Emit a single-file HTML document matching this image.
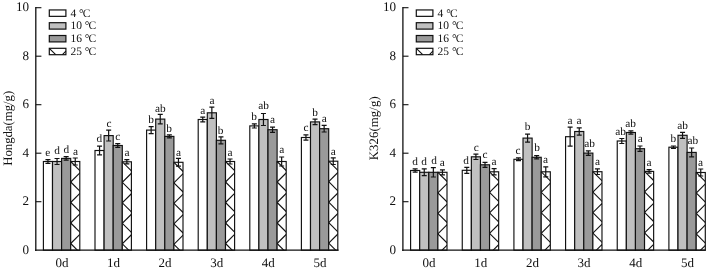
<!DOCTYPE html>
<html><head><meta charset="utf-8"><title>chart</title>
<style>html,body{margin:0;padding:0;background:#fff}svg{display:block}text{text-rendering:geometricPrecision;font-family:"Liberation Serif","Times New Roman",serif;fill:#111}</style>
</head><body>
<svg width="708" height="270" viewBox="0 0 708 270">
<rect width="708" height="270" fill="#fff"/>
<rect x="43.40" y="161.50" width="9.1" height="88.70" fill="#ffffff" stroke="#111" stroke-width="1.15"/>
<path d="M47.95 159.60V163.40M45.45 159.60h5M45.45 163.40h5" stroke="#111" stroke-width="1.2" fill="none"/>
<rect x="52.50" y="161.50" width="9.1" height="88.70" fill="#c0c0c0" stroke="#111" stroke-width="1.15"/>
<path d="M57.05 158.50V164.50M54.55 158.50h5M54.55 164.50h5" stroke="#111" stroke-width="1.2" fill="none"/>
<rect x="61.60" y="158.40" width="9.1" height="91.80" fill="#9a9a9a" stroke="#111" stroke-width="1.15"/>
<path d="M66.15 156.60V160.20M63.65 156.60h5M63.65 160.20h5" stroke="#111" stroke-width="1.2" fill="none"/>
<rect x="70.70" y="161.50" width="9.1" height="88.70" fill="#fff"/>
<clipPath id="c1"><rect x="70.70" y="161.50" width="9.10" height="88.70"/></clipPath><g clip-path="url(#c1)" stroke="#111" stroke-width="1.1" fill="none"><line x1="70.70" y1="38.50" x2="168.50" y2="136.30"/><line x1="70.70" y1="59.00" x2="168.50" y2="156.80"/><line x1="70.70" y1="79.50" x2="168.50" y2="177.30"/><line x1="70.70" y1="100.00" x2="168.50" y2="197.80"/><line x1="70.70" y1="120.50" x2="168.50" y2="218.30"/><line x1="70.70" y1="141.00" x2="168.50" y2="238.80"/><line x1="70.70" y1="161.50" x2="168.50" y2="259.30"/><line x1="70.70" y1="182.00" x2="168.50" y2="279.80"/><line x1="70.70" y1="202.50" x2="168.50" y2="300.30"/><line x1="70.70" y1="223.00" x2="168.50" y2="320.80"/><line x1="70.70" y1="243.50" x2="168.50" y2="341.30"/><line x1="70.70" y1="264.00" x2="168.50" y2="361.80"/><line x1="70.70" y1="284.50" x2="168.50" y2="382.30"/><line x1="70.70" y1="182.00" x2="168.50" y2="84.20"/><line x1="70.70" y1="202.50" x2="168.50" y2="104.70"/><line x1="70.70" y1="223.00" x2="168.50" y2="125.20"/><line x1="70.70" y1="243.50" x2="168.50" y2="145.70"/><line x1="70.70" y1="264.00" x2="168.50" y2="166.20"/><line x1="70.70" y1="284.50" x2="168.50" y2="186.70"/><line x1="70.70" y1="305.00" x2="168.50" y2="207.20"/></g>
<rect x="70.70" y="161.50" width="9.1" height="88.70" fill="none" stroke="#111" stroke-width="1.15"/>
<path d="M75.25 158.00V165.00M72.75 158.00h5M72.75 165.00h5" stroke="#111" stroke-width="1.2" fill="none"/>
<rect x="95.00" y="150.50" width="9.1" height="99.70" fill="#ffffff" stroke="#111" stroke-width="1.15"/>
<path d="M99.55 146.10V154.90M97.05 146.10h5M97.05 154.90h5" stroke="#111" stroke-width="1.2" fill="none"/>
<rect x="104.10" y="135.60" width="9.1" height="114.60" fill="#c0c0c0" stroke="#111" stroke-width="1.15"/>
<path d="M108.65 130.20V141.00M106.15 130.20h5M106.15 141.00h5" stroke="#111" stroke-width="1.2" fill="none"/>
<rect x="113.20" y="145.50" width="9.1" height="104.70" fill="#9a9a9a" stroke="#111" stroke-width="1.15"/>
<path d="M117.75 143.60V147.40M115.25 143.60h5M115.25 147.40h5" stroke="#111" stroke-width="1.2" fill="none"/>
<rect x="122.30" y="161.80" width="9.1" height="88.40" fill="#fff"/>
<clipPath id="c2"><rect x="122.30" y="161.80" width="9.10" height="88.40"/></clipPath><g clip-path="url(#c2)" stroke="#111" stroke-width="1.1" fill="none"><line x1="122.30" y1="38.80" x2="219.80" y2="136.30"/><line x1="122.30" y1="59.30" x2="219.80" y2="156.80"/><line x1="122.30" y1="79.80" x2="219.80" y2="177.30"/><line x1="122.30" y1="100.30" x2="219.80" y2="197.80"/><line x1="122.30" y1="120.80" x2="219.80" y2="218.30"/><line x1="122.30" y1="141.30" x2="219.80" y2="238.80"/><line x1="122.30" y1="161.80" x2="219.80" y2="259.30"/><line x1="122.30" y1="182.30" x2="219.80" y2="279.80"/><line x1="122.30" y1="202.80" x2="219.80" y2="300.30"/><line x1="122.30" y1="223.30" x2="219.80" y2="320.80"/><line x1="122.30" y1="243.80" x2="219.80" y2="341.30"/><line x1="122.30" y1="264.30" x2="219.80" y2="361.80"/><line x1="122.30" y1="284.80" x2="219.80" y2="382.30"/><line x1="122.30" y1="182.30" x2="219.80" y2="84.80"/><line x1="122.30" y1="202.80" x2="219.80" y2="105.30"/><line x1="122.30" y1="223.30" x2="219.80" y2="125.80"/><line x1="122.30" y1="243.80" x2="219.80" y2="146.30"/><line x1="122.30" y1="264.30" x2="219.80" y2="166.80"/><line x1="122.30" y1="284.80" x2="219.80" y2="187.30"/><line x1="122.30" y1="305.30" x2="219.80" y2="207.80"/></g>
<rect x="122.30" y="161.80" width="9.1" height="88.40" fill="none" stroke="#111" stroke-width="1.15"/>
<path d="M126.85 159.70V163.90M124.35 159.70h5M124.35 163.90h5" stroke="#111" stroke-width="1.2" fill="none"/>
<rect x="146.60" y="130.10" width="9.1" height="120.10" fill="#ffffff" stroke="#111" stroke-width="1.15"/>
<path d="M151.15 126.60V133.60M148.65 126.60h5M148.65 133.60h5" stroke="#111" stroke-width="1.2" fill="none"/>
<rect x="155.70" y="119.10" width="9.1" height="131.10" fill="#c0c0c0" stroke="#111" stroke-width="1.15"/>
<path d="M160.25 114.30V123.90M157.75 114.30h5M157.75 123.90h5" stroke="#111" stroke-width="1.2" fill="none"/>
<rect x="164.80" y="136.40" width="9.1" height="113.80" fill="#9a9a9a" stroke="#111" stroke-width="1.15"/>
<path d="M169.35 134.90V137.90M166.85 134.90h5M166.85 137.90h5" stroke="#111" stroke-width="1.2" fill="none"/>
<rect x="173.90" y="162.30" width="9.1" height="87.90" fill="#fff"/>
<clipPath id="c3"><rect x="173.90" y="162.30" width="9.10" height="87.90"/></clipPath><g clip-path="url(#c3)" stroke="#111" stroke-width="1.1" fill="none"><line x1="173.90" y1="39.30" x2="270.90" y2="136.30"/><line x1="173.90" y1="59.80" x2="270.90" y2="156.80"/><line x1="173.90" y1="80.30" x2="270.90" y2="177.30"/><line x1="173.90" y1="100.80" x2="270.90" y2="197.80"/><line x1="173.90" y1="121.30" x2="270.90" y2="218.30"/><line x1="173.90" y1="141.80" x2="270.90" y2="238.80"/><line x1="173.90" y1="162.30" x2="270.90" y2="259.30"/><line x1="173.90" y1="182.80" x2="270.90" y2="279.80"/><line x1="173.90" y1="203.30" x2="270.90" y2="300.30"/><line x1="173.90" y1="223.80" x2="270.90" y2="320.80"/><line x1="173.90" y1="244.30" x2="270.90" y2="341.30"/><line x1="173.90" y1="264.80" x2="270.90" y2="361.80"/><line x1="173.90" y1="285.30" x2="270.90" y2="382.30"/><line x1="173.90" y1="182.80" x2="270.90" y2="85.80"/><line x1="173.90" y1="203.30" x2="270.90" y2="106.30"/><line x1="173.90" y1="223.80" x2="270.90" y2="126.80"/><line x1="173.90" y1="244.30" x2="270.90" y2="147.30"/><line x1="173.90" y1="264.80" x2="270.90" y2="167.80"/><line x1="173.90" y1="285.30" x2="270.90" y2="188.30"/><line x1="173.90" y1="305.80" x2="270.90" y2="208.80"/></g>
<rect x="173.90" y="162.30" width="9.1" height="87.90" fill="none" stroke="#111" stroke-width="1.15"/>
<path d="M178.45 158.40V166.20M175.95 158.40h5M175.95 166.20h5" stroke="#111" stroke-width="1.2" fill="none"/>
<rect x="198.20" y="119.50" width="9.1" height="130.70" fill="#ffffff" stroke="#111" stroke-width="1.15"/>
<path d="M202.75 117.10V121.90M200.25 117.10h5M200.25 121.90h5" stroke="#111" stroke-width="1.2" fill="none"/>
<rect x="207.30" y="112.80" width="9.1" height="137.40" fill="#c0c0c0" stroke="#111" stroke-width="1.15"/>
<path d="M211.85 107.20V118.40M209.35 107.20h5M209.35 118.40h5" stroke="#111" stroke-width="1.2" fill="none"/>
<rect x="216.40" y="140.30" width="9.1" height="109.90" fill="#9a9a9a" stroke="#111" stroke-width="1.15"/>
<path d="M220.95 136.80V143.80M218.45 136.80h5M218.45 143.80h5" stroke="#111" stroke-width="1.2" fill="none"/>
<rect x="225.50" y="161.50" width="9.1" height="88.70" fill="#fff"/>
<clipPath id="c4"><rect x="225.50" y="161.50" width="9.10" height="88.70"/></clipPath><g clip-path="url(#c4)" stroke="#111" stroke-width="1.1" fill="none"><line x1="225.50" y1="38.50" x2="323.30" y2="136.30"/><line x1="225.50" y1="59.00" x2="323.30" y2="156.80"/><line x1="225.50" y1="79.50" x2="323.30" y2="177.30"/><line x1="225.50" y1="100.00" x2="323.30" y2="197.80"/><line x1="225.50" y1="120.50" x2="323.30" y2="218.30"/><line x1="225.50" y1="141.00" x2="323.30" y2="238.80"/><line x1="225.50" y1="161.50" x2="323.30" y2="259.30"/><line x1="225.50" y1="182.00" x2="323.30" y2="279.80"/><line x1="225.50" y1="202.50" x2="323.30" y2="300.30"/><line x1="225.50" y1="223.00" x2="323.30" y2="320.80"/><line x1="225.50" y1="243.50" x2="323.30" y2="341.30"/><line x1="225.50" y1="264.00" x2="323.30" y2="361.80"/><line x1="225.50" y1="284.50" x2="323.30" y2="382.30"/><line x1="225.50" y1="182.00" x2="323.30" y2="84.20"/><line x1="225.50" y1="202.50" x2="323.30" y2="104.70"/><line x1="225.50" y1="223.00" x2="323.30" y2="125.20"/><line x1="225.50" y1="243.50" x2="323.30" y2="145.70"/><line x1="225.50" y1="264.00" x2="323.30" y2="166.20"/><line x1="225.50" y1="284.50" x2="323.30" y2="186.70"/><line x1="225.50" y1="305.00" x2="323.30" y2="207.20"/></g>
<rect x="225.50" y="161.50" width="9.1" height="88.70" fill="none" stroke="#111" stroke-width="1.15"/>
<path d="M230.05 159.00V164.00M227.55 159.00h5M227.55 164.00h5" stroke="#111" stroke-width="1.2" fill="none"/>
<rect x="249.80" y="125.90" width="9.1" height="124.30" fill="#ffffff" stroke="#111" stroke-width="1.15"/>
<path d="M254.35 123.80V128.00M251.85 123.80h5M251.85 128.00h5" stroke="#111" stroke-width="1.2" fill="none"/>
<rect x="258.90" y="119.50" width="9.1" height="130.70" fill="#c0c0c0" stroke="#111" stroke-width="1.15"/>
<path d="M263.45 113.50V125.50M260.95 113.50h5M260.95 125.50h5" stroke="#111" stroke-width="1.2" fill="none"/>
<rect x="268.00" y="129.70" width="9.1" height="120.50" fill="#9a9a9a" stroke="#111" stroke-width="1.15"/>
<path d="M272.55 127.10V132.30M270.05 127.10h5M270.05 132.30h5" stroke="#111" stroke-width="1.2" fill="none"/>
<rect x="277.10" y="161.50" width="9.1" height="88.70" fill="#fff"/>
<clipPath id="c5"><rect x="277.10" y="161.50" width="9.10" height="88.70"/></clipPath><g clip-path="url(#c5)" stroke="#111" stroke-width="1.1" fill="none"><line x1="277.10" y1="38.50" x2="374.90" y2="136.30"/><line x1="277.10" y1="59.00" x2="374.90" y2="156.80"/><line x1="277.10" y1="79.50" x2="374.90" y2="177.30"/><line x1="277.10" y1="100.00" x2="374.90" y2="197.80"/><line x1="277.10" y1="120.50" x2="374.90" y2="218.30"/><line x1="277.10" y1="141.00" x2="374.90" y2="238.80"/><line x1="277.10" y1="161.50" x2="374.90" y2="259.30"/><line x1="277.10" y1="182.00" x2="374.90" y2="279.80"/><line x1="277.10" y1="202.50" x2="374.90" y2="300.30"/><line x1="277.10" y1="223.00" x2="374.90" y2="320.80"/><line x1="277.10" y1="243.50" x2="374.90" y2="341.30"/><line x1="277.10" y1="264.00" x2="374.90" y2="361.80"/><line x1="277.10" y1="284.50" x2="374.90" y2="382.30"/><line x1="277.10" y1="182.00" x2="374.90" y2="84.20"/><line x1="277.10" y1="202.50" x2="374.90" y2="104.70"/><line x1="277.10" y1="223.00" x2="374.90" y2="125.20"/><line x1="277.10" y1="243.50" x2="374.90" y2="145.70"/><line x1="277.10" y1="264.00" x2="374.90" y2="166.20"/><line x1="277.10" y1="284.50" x2="374.90" y2="186.70"/><line x1="277.10" y1="305.00" x2="374.90" y2="207.20"/></g>
<rect x="277.10" y="161.50" width="9.1" height="88.70" fill="none" stroke="#111" stroke-width="1.15"/>
<path d="M281.65 157.00V166.00M279.15 157.00h5M279.15 166.00h5" stroke="#111" stroke-width="1.2" fill="none"/>
<rect x="301.40" y="137.50" width="9.1" height="112.70" fill="#ffffff" stroke="#111" stroke-width="1.15"/>
<path d="M305.95 134.80V140.20M303.45 134.80h5M303.45 140.20h5" stroke="#111" stroke-width="1.2" fill="none"/>
<rect x="310.50" y="121.90" width="9.1" height="128.30" fill="#c0c0c0" stroke="#111" stroke-width="1.15"/>
<path d="M315.05 119.10V124.70M312.55 119.10h5M312.55 124.70h5" stroke="#111" stroke-width="1.2" fill="none"/>
<rect x="319.60" y="128.70" width="9.1" height="121.50" fill="#9a9a9a" stroke="#111" stroke-width="1.15"/>
<path d="M324.15 125.40V132.00M321.65 125.40h5M321.65 132.00h5" stroke="#111" stroke-width="1.2" fill="none"/>
<rect x="328.70" y="161.20" width="9.1" height="89.00" fill="#fff"/>
<clipPath id="c6"><rect x="328.70" y="161.20" width="9.10" height="89.00"/></clipPath><g clip-path="url(#c6)" stroke="#111" stroke-width="1.1" fill="none"><line x1="328.70" y1="38.20" x2="426.80" y2="136.30"/><line x1="328.70" y1="58.70" x2="426.80" y2="156.80"/><line x1="328.70" y1="79.20" x2="426.80" y2="177.30"/><line x1="328.70" y1="99.70" x2="426.80" y2="197.80"/><line x1="328.70" y1="120.20" x2="426.80" y2="218.30"/><line x1="328.70" y1="140.70" x2="426.80" y2="238.80"/><line x1="328.70" y1="161.20" x2="426.80" y2="259.30"/><line x1="328.70" y1="181.70" x2="426.80" y2="279.80"/><line x1="328.70" y1="202.20" x2="426.80" y2="300.30"/><line x1="328.70" y1="222.70" x2="426.80" y2="320.80"/><line x1="328.70" y1="243.20" x2="426.80" y2="341.30"/><line x1="328.70" y1="263.70" x2="426.80" y2="361.80"/><line x1="328.70" y1="284.20" x2="426.80" y2="382.30"/><line x1="328.70" y1="181.70" x2="426.80" y2="83.60"/><line x1="328.70" y1="202.20" x2="426.80" y2="104.10"/><line x1="328.70" y1="222.70" x2="426.80" y2="124.60"/><line x1="328.70" y1="243.20" x2="426.80" y2="145.10"/><line x1="328.70" y1="263.70" x2="426.80" y2="165.60"/><line x1="328.70" y1="284.20" x2="426.80" y2="186.10"/><line x1="328.70" y1="304.70" x2="426.80" y2="206.60"/></g>
<rect x="328.70" y="161.20" width="9.1" height="89.00" fill="none" stroke="#111" stroke-width="1.15"/>
<path d="M333.25 157.90V164.50M330.75 157.90h5M330.75 164.50h5" stroke="#111" stroke-width="1.2" fill="none"/>
<text x="47.7" y="155.5" font-size="11.3" text-anchor="middle">e</text>
<text x="57.1" y="153.7" font-size="11.3" text-anchor="middle">d</text>
<text x="66.3" y="153.4" font-size="11.3" text-anchor="middle">d</text>
<text x="75.5" y="154.8" font-size="11.3" text-anchor="middle">a</text>
<text x="99.4" y="142.4" font-size="11.3" text-anchor="middle">d</text>
<text x="109.0" y="127.0" font-size="11.3" text-anchor="middle">c</text>
<text x="117.7" y="140.2" font-size="11.3" text-anchor="middle">c</text>
<text x="127.0" y="156.1" font-size="11.3" text-anchor="middle">a</text>
<text x="151.2" y="122.5" font-size="11.3" text-anchor="middle">b</text>
<text x="160.4" y="111.5" font-size="11.3" text-anchor="middle">ab</text>
<text x="169.1" y="131.5" font-size="11.3" text-anchor="middle">b</text>
<text x="178.4" y="155.7" font-size="11.3" text-anchor="middle">a</text>
<text x="202.7" y="113.5" font-size="11.3" text-anchor="middle">a</text>
<text x="212.1" y="103.8" font-size="11.3" text-anchor="middle">a</text>
<text x="220.7" y="133.7" font-size="11.3" text-anchor="middle">b</text>
<text x="230.0" y="155.5" font-size="11.3" text-anchor="middle">a</text>
<text x="254.2" y="120.3" font-size="11.3" text-anchor="middle">b</text>
<text x="263.7" y="109.1" font-size="11.3" text-anchor="middle">ab</text>
<text x="272.5" y="122.8" font-size="11.3" text-anchor="middle">a</text>
<text x="281.7" y="153.4" font-size="11.3" text-anchor="middle">a</text>
<text x="306.1" y="131.1" font-size="11.3" text-anchor="middle">c</text>
<text x="315.0" y="116.0" font-size="11.3" text-anchor="middle">b</text>
<text x="324.3" y="121.9" font-size="11.3" text-anchor="middle">a</text>
<text x="333.3" y="154.8" font-size="11.3" text-anchor="middle">a</text>
<path d="M35.8 7.10V250.90" stroke="#111" stroke-width="1.3" fill="none"/>
<path d="M35.10 250.2H338.60" stroke="#111" stroke-width="1.3" fill="none"/>
<text x="29.1" y="253.7" font-size="13.1" text-anchor="end">0</text>
<path d="M35.8 201.70h5.6" stroke="#111" stroke-width="1.1" fill="none"/>
<text x="29.1" y="205.2" font-size="13.1" text-anchor="end">2</text>
<path d="M35.8 153.20h5.6" stroke="#111" stroke-width="1.1" fill="none"/>
<text x="29.1" y="156.7" font-size="13.1" text-anchor="end">4</text>
<path d="M35.8 104.70h5.6" stroke="#111" stroke-width="1.1" fill="none"/>
<text x="29.1" y="108.2" font-size="13.1" text-anchor="end">6</text>
<path d="M35.8 56.20h5.6" stroke="#111" stroke-width="1.1" fill="none"/>
<text x="29.1" y="59.7" font-size="13.1" text-anchor="end">8</text>
<path d="M35.8 7.70h5.6" stroke="#111" stroke-width="1.1" fill="none"/>
<text x="29.1" y="11.2" font-size="13.1" text-anchor="end">10</text>
<text x="61.9" y="267.0" font-size="13" text-anchor="middle">0d</text>
<text x="113.5" y="267.0" font-size="13" text-anchor="middle">1d</text>
<text x="165.1" y="267.0" font-size="13" text-anchor="middle">2d</text>
<text x="216.7" y="267.0" font-size="13" text-anchor="middle">3d</text>
<text x="268.3" y="267.0" font-size="13" text-anchor="middle">4d</text>
<text x="319.9" y="267.0" font-size="13" text-anchor="middle">5d</text>
<text transform="translate(11.6 165.8) rotate(-90)" font-size="12.8" textLength="75.0" lengthAdjust="spacing">Hongda(mg/g)</text>
<rect x="49.300000000000004" y="9.95" width="16.6" height="6.4" fill="#ffffff" stroke="#111" stroke-width="1.2"/>
<text x="70.4" y="16.6" font-size="11.5">4 °<tspan dx="-0.8">C</tspan></text>
<rect x="49.300000000000004" y="22.7" width="16.6" height="6.4" fill="#c0c0c0" stroke="#111" stroke-width="1.2"/>
<text x="70.4" y="29.4" font-size="11.5">10 °<tspan dx="-0.8">C</tspan></text>
<rect x="49.300000000000004" y="35.5" width="16.6" height="6.4" fill="#9a9a9a" stroke="#111" stroke-width="1.2"/>
<text x="70.4" y="42.2" font-size="11.5">16 °<tspan dx="-0.8">C</tspan></text>
<rect x="49.300000000000004" y="48.3" width="16.6" height="6.4" fill="#fff"/>
<path d="M49.300000000000004 48.3l6.4 6.4M65.9 51.199999999999996l-3.5 3.5" stroke="#111" stroke-width="1.1" fill="none"/>
<rect x="49.300000000000004" y="48.3" width="16.6" height="6.4" fill="none" stroke="#111" stroke-width="1.2"/>
<text x="70.4" y="55.0" font-size="11.5">25 °<tspan dx="-0.8">C</tspan></text>
<rect x="410.60" y="170.50" width="9.1" height="79.70" fill="#ffffff" stroke="#111" stroke-width="1.15"/>
<path d="M415.15 168.90V172.10M412.65 168.90h5M412.65 172.10h5" stroke="#111" stroke-width="1.2" fill="none"/>
<rect x="419.70" y="172.30" width="9.1" height="77.90" fill="#c0c0c0" stroke="#111" stroke-width="1.15"/>
<path d="M424.25 168.90V175.70M421.75 168.90h5M421.75 175.70h5" stroke="#111" stroke-width="1.2" fill="none"/>
<rect x="428.80" y="172.30" width="9.1" height="77.90" fill="#9a9a9a" stroke="#111" stroke-width="1.15"/>
<path d="M433.35 167.60V177.00M430.85 167.60h5M430.85 177.00h5" stroke="#111" stroke-width="1.2" fill="none"/>
<rect x="437.90" y="172.30" width="9.1" height="77.90" fill="#fff"/>
<clipPath id="c7"><rect x="437.90" y="172.30" width="9.10" height="77.90"/></clipPath><g clip-path="url(#c7)" stroke="#111" stroke-width="1.1" fill="none"><line x1="437.90" y1="49.30" x2="524.90" y2="136.30"/><line x1="437.90" y1="69.80" x2="524.90" y2="156.80"/><line x1="437.90" y1="90.30" x2="524.90" y2="177.30"/><line x1="437.90" y1="110.80" x2="524.90" y2="197.80"/><line x1="437.90" y1="131.30" x2="524.90" y2="218.30"/><line x1="437.90" y1="151.80" x2="524.90" y2="238.80"/><line x1="437.90" y1="172.30" x2="524.90" y2="259.30"/><line x1="437.90" y1="192.80" x2="524.90" y2="279.80"/><line x1="437.90" y1="213.30" x2="524.90" y2="300.30"/><line x1="437.90" y1="233.80" x2="524.90" y2="320.80"/><line x1="437.90" y1="254.30" x2="524.90" y2="341.30"/><line x1="437.90" y1="274.80" x2="524.90" y2="361.80"/><line x1="437.90" y1="295.30" x2="524.90" y2="382.30"/><line x1="437.90" y1="192.80" x2="524.90" y2="105.80"/><line x1="437.90" y1="213.30" x2="524.90" y2="126.30"/><line x1="437.90" y1="233.80" x2="524.90" y2="146.80"/><line x1="437.90" y1="254.30" x2="524.90" y2="167.30"/><line x1="437.90" y1="274.80" x2="524.90" y2="187.80"/><line x1="437.90" y1="295.30" x2="524.90" y2="208.30"/><line x1="437.90" y1="315.80" x2="524.90" y2="228.80"/></g>
<rect x="437.90" y="172.30" width="9.1" height="77.90" fill="none" stroke="#111" stroke-width="1.15"/>
<path d="M442.45 169.80V174.80M439.95 169.80h5M439.95 174.80h5" stroke="#111" stroke-width="1.2" fill="none"/>
<rect x="462.26" y="170.30" width="9.1" height="79.90" fill="#ffffff" stroke="#111" stroke-width="1.15"/>
<path d="M466.81 167.30V173.30M464.31 167.30h5M464.31 173.30h5" stroke="#111" stroke-width="1.2" fill="none"/>
<rect x="471.36" y="156.80" width="9.1" height="93.40" fill="#c0c0c0" stroke="#111" stroke-width="1.15"/>
<path d="M475.91 154.10V159.50M473.41 154.10h5M473.41 159.50h5" stroke="#111" stroke-width="1.2" fill="none"/>
<rect x="480.46" y="164.80" width="9.1" height="85.40" fill="#9a9a9a" stroke="#111" stroke-width="1.15"/>
<path d="M485.01 162.30V167.30M482.51 162.30h5M482.51 167.30h5" stroke="#111" stroke-width="1.2" fill="none"/>
<rect x="489.56" y="171.80" width="9.1" height="78.40" fill="#fff"/>
<clipPath id="c8"><rect x="489.56" y="171.80" width="9.10" height="78.40"/></clipPath><g clip-path="url(#c8)" stroke="#111" stroke-width="1.1" fill="none"><line x1="489.56" y1="48.80" x2="577.06" y2="136.30"/><line x1="489.56" y1="69.30" x2="577.06" y2="156.80"/><line x1="489.56" y1="89.80" x2="577.06" y2="177.30"/><line x1="489.56" y1="110.30" x2="577.06" y2="197.80"/><line x1="489.56" y1="130.80" x2="577.06" y2="218.30"/><line x1="489.56" y1="151.30" x2="577.06" y2="238.80"/><line x1="489.56" y1="171.80" x2="577.06" y2="259.30"/><line x1="489.56" y1="192.30" x2="577.06" y2="279.80"/><line x1="489.56" y1="212.80" x2="577.06" y2="300.30"/><line x1="489.56" y1="233.30" x2="577.06" y2="320.80"/><line x1="489.56" y1="253.80" x2="577.06" y2="341.30"/><line x1="489.56" y1="274.30" x2="577.06" y2="361.80"/><line x1="489.56" y1="294.80" x2="577.06" y2="382.30"/><line x1="489.56" y1="192.30" x2="577.06" y2="104.80"/><line x1="489.56" y1="212.80" x2="577.06" y2="125.30"/><line x1="489.56" y1="233.30" x2="577.06" y2="145.80"/><line x1="489.56" y1="253.80" x2="577.06" y2="166.30"/><line x1="489.56" y1="274.30" x2="577.06" y2="186.80"/><line x1="489.56" y1="294.80" x2="577.06" y2="207.30"/><line x1="489.56" y1="315.30" x2="577.06" y2="227.80"/></g>
<rect x="489.56" y="171.80" width="9.1" height="78.40" fill="none" stroke="#111" stroke-width="1.15"/>
<path d="M494.11 168.70V174.90M491.61 168.70h5M491.61 174.90h5" stroke="#111" stroke-width="1.2" fill="none"/>
<rect x="513.92" y="159.30" width="9.1" height="90.90" fill="#ffffff" stroke="#111" stroke-width="1.15"/>
<path d="M518.47 157.90V160.70M515.97 157.90h5M515.97 160.70h5" stroke="#111" stroke-width="1.2" fill="none"/>
<rect x="523.02" y="138.10" width="9.1" height="112.10" fill="#c0c0c0" stroke="#111" stroke-width="1.15"/>
<path d="M527.57 134.10V142.10M525.07 134.10h5M525.07 142.10h5" stroke="#111" stroke-width="1.2" fill="none"/>
<rect x="532.12" y="157.30" width="9.1" height="92.90" fill="#9a9a9a" stroke="#111" stroke-width="1.15"/>
<path d="M536.67 155.70V158.90M534.17 155.70h5M534.17 158.90h5" stroke="#111" stroke-width="1.2" fill="none"/>
<rect x="541.22" y="171.80" width="9.1" height="78.40" fill="#fff"/>
<clipPath id="c9"><rect x="541.22" y="171.80" width="9.10" height="78.40"/></clipPath><g clip-path="url(#c9)" stroke="#111" stroke-width="1.1" fill="none"><line x1="541.22" y1="48.80" x2="628.72" y2="136.30"/><line x1="541.22" y1="69.30" x2="628.72" y2="156.80"/><line x1="541.22" y1="89.80" x2="628.72" y2="177.30"/><line x1="541.22" y1="110.30" x2="628.72" y2="197.80"/><line x1="541.22" y1="130.80" x2="628.72" y2="218.30"/><line x1="541.22" y1="151.30" x2="628.72" y2="238.80"/><line x1="541.22" y1="171.80" x2="628.72" y2="259.30"/><line x1="541.22" y1="192.30" x2="628.72" y2="279.80"/><line x1="541.22" y1="212.80" x2="628.72" y2="300.30"/><line x1="541.22" y1="233.30" x2="628.72" y2="320.80"/><line x1="541.22" y1="253.80" x2="628.72" y2="341.30"/><line x1="541.22" y1="274.30" x2="628.72" y2="361.80"/><line x1="541.22" y1="294.80" x2="628.72" y2="382.30"/><line x1="541.22" y1="192.30" x2="628.72" y2="104.80"/><line x1="541.22" y1="212.80" x2="628.72" y2="125.30"/><line x1="541.22" y1="233.30" x2="628.72" y2="145.80"/><line x1="541.22" y1="253.80" x2="628.72" y2="166.30"/><line x1="541.22" y1="274.30" x2="628.72" y2="186.80"/><line x1="541.22" y1="294.80" x2="628.72" y2="207.30"/><line x1="541.22" y1="315.30" x2="628.72" y2="227.80"/></g>
<rect x="541.22" y="171.80" width="9.1" height="78.40" fill="none" stroke="#111" stroke-width="1.15"/>
<path d="M545.77 166.80V176.80M543.27 166.80h5M543.27 176.80h5" stroke="#111" stroke-width="1.2" fill="none"/>
<rect x="565.58" y="136.70" width="9.1" height="113.50" fill="#ffffff" stroke="#111" stroke-width="1.15"/>
<path d="M570.13 127.20V146.20M567.63 127.20h5M567.63 146.20h5" stroke="#111" stroke-width="1.2" fill="none"/>
<rect x="574.68" y="131.50" width="9.1" height="118.70" fill="#c0c0c0" stroke="#111" stroke-width="1.15"/>
<path d="M579.23 127.80V135.20M576.73 127.80h5M576.73 135.20h5" stroke="#111" stroke-width="1.2" fill="none"/>
<rect x="583.78" y="153.10" width="9.1" height="97.10" fill="#9a9a9a" stroke="#111" stroke-width="1.15"/>
<path d="M588.33 150.80V155.40M585.83 150.80h5M585.83 155.40h5" stroke="#111" stroke-width="1.2" fill="none"/>
<rect x="592.88" y="171.70" width="9.1" height="78.50" fill="#fff"/>
<clipPath id="c10"><rect x="592.88" y="171.70" width="9.10" height="78.50"/></clipPath><g clip-path="url(#c10)" stroke="#111" stroke-width="1.1" fill="none"><line x1="592.88" y1="48.70" x2="680.48" y2="136.30"/><line x1="592.88" y1="69.20" x2="680.48" y2="156.80"/><line x1="592.88" y1="89.70" x2="680.48" y2="177.30"/><line x1="592.88" y1="110.20" x2="680.48" y2="197.80"/><line x1="592.88" y1="130.70" x2="680.48" y2="218.30"/><line x1="592.88" y1="151.20" x2="680.48" y2="238.80"/><line x1="592.88" y1="171.70" x2="680.48" y2="259.30"/><line x1="592.88" y1="192.20" x2="680.48" y2="279.80"/><line x1="592.88" y1="212.70" x2="680.48" y2="300.30"/><line x1="592.88" y1="233.20" x2="680.48" y2="320.80"/><line x1="592.88" y1="253.70" x2="680.48" y2="341.30"/><line x1="592.88" y1="274.20" x2="680.48" y2="361.80"/><line x1="592.88" y1="294.70" x2="680.48" y2="382.30"/><line x1="592.88" y1="192.20" x2="680.48" y2="104.60"/><line x1="592.88" y1="212.70" x2="680.48" y2="125.10"/><line x1="592.88" y1="233.20" x2="680.48" y2="145.60"/><line x1="592.88" y1="253.70" x2="680.48" y2="166.10"/><line x1="592.88" y1="274.20" x2="680.48" y2="186.60"/><line x1="592.88" y1="294.70" x2="680.48" y2="207.10"/><line x1="592.88" y1="315.20" x2="680.48" y2="227.60"/></g>
<rect x="592.88" y="171.70" width="9.1" height="78.50" fill="none" stroke="#111" stroke-width="1.15"/>
<path d="M597.43 168.90V174.50M594.93 168.90h5M594.93 174.50h5" stroke="#111" stroke-width="1.2" fill="none"/>
<rect x="617.24" y="141.00" width="9.1" height="109.20" fill="#ffffff" stroke="#111" stroke-width="1.15"/>
<path d="M621.79 138.50V143.50M619.29 138.50h5M619.29 143.50h5" stroke="#111" stroke-width="1.2" fill="none"/>
<rect x="626.34" y="132.50" width="9.1" height="117.70" fill="#c0c0c0" stroke="#111" stroke-width="1.15"/>
<path d="M630.89 130.90V134.10M628.39 130.90h5M628.39 134.10h5" stroke="#111" stroke-width="1.2" fill="none"/>
<rect x="635.44" y="148.70" width="9.1" height="101.50" fill="#9a9a9a" stroke="#111" stroke-width="1.15"/>
<path d="M639.99 146.00V151.40M637.49 146.00h5M637.49 151.40h5" stroke="#111" stroke-width="1.2" fill="none"/>
<rect x="644.54" y="171.40" width="9.1" height="78.80" fill="#fff"/>
<clipPath id="c11"><rect x="644.54" y="171.40" width="9.10" height="78.80"/></clipPath><g clip-path="url(#c11)" stroke="#111" stroke-width="1.1" fill="none"><line x1="644.54" y1="48.40" x2="732.44" y2="136.30"/><line x1="644.54" y1="68.90" x2="732.44" y2="156.80"/><line x1="644.54" y1="89.40" x2="732.44" y2="177.30"/><line x1="644.54" y1="109.90" x2="732.44" y2="197.80"/><line x1="644.54" y1="130.40" x2="732.44" y2="218.30"/><line x1="644.54" y1="150.90" x2="732.44" y2="238.80"/><line x1="644.54" y1="171.40" x2="732.44" y2="259.30"/><line x1="644.54" y1="191.90" x2="732.44" y2="279.80"/><line x1="644.54" y1="212.40" x2="732.44" y2="300.30"/><line x1="644.54" y1="232.90" x2="732.44" y2="320.80"/><line x1="644.54" y1="253.40" x2="732.44" y2="341.30"/><line x1="644.54" y1="273.90" x2="732.44" y2="361.80"/><line x1="644.54" y1="294.40" x2="732.44" y2="382.30"/><line x1="644.54" y1="191.90" x2="732.44" y2="104.00"/><line x1="644.54" y1="212.40" x2="732.44" y2="124.50"/><line x1="644.54" y1="232.90" x2="732.44" y2="145.00"/><line x1="644.54" y1="253.40" x2="732.44" y2="165.50"/><line x1="644.54" y1="273.90" x2="732.44" y2="186.00"/><line x1="644.54" y1="294.40" x2="732.44" y2="206.50"/><line x1="644.54" y1="314.90" x2="732.44" y2="227.00"/></g>
<rect x="644.54" y="171.40" width="9.1" height="78.80" fill="none" stroke="#111" stroke-width="1.15"/>
<path d="M649.09 169.70V173.10M646.59 169.70h5M646.59 173.10h5" stroke="#111" stroke-width="1.2" fill="none"/>
<rect x="668.90" y="147.20" width="9.1" height="103.00" fill="#ffffff" stroke="#111" stroke-width="1.15"/>
<path d="M673.45 146.00V148.40M670.95 146.00h5M670.95 148.40h5" stroke="#111" stroke-width="1.2" fill="none"/>
<rect x="678.00" y="135.30" width="9.1" height="114.90" fill="#c0c0c0" stroke="#111" stroke-width="1.15"/>
<path d="M682.55 132.30V138.30M680.05 132.30h5M680.05 138.30h5" stroke="#111" stroke-width="1.2" fill="none"/>
<rect x="687.10" y="152.40" width="9.1" height="97.80" fill="#9a9a9a" stroke="#111" stroke-width="1.15"/>
<path d="M691.65 148.00V156.80M689.15 148.00h5M689.15 156.80h5" stroke="#111" stroke-width="1.2" fill="none"/>
<rect x="696.20" y="172.50" width="9.1" height="77.70" fill="#fff"/>
<clipPath id="c12"><rect x="696.20" y="172.50" width="9.10" height="77.70"/></clipPath><g clip-path="url(#c12)" stroke="#111" stroke-width="1.1" fill="none"><line x1="696.20" y1="49.50" x2="783.00" y2="136.30"/><line x1="696.20" y1="70.00" x2="783.00" y2="156.80"/><line x1="696.20" y1="90.50" x2="783.00" y2="177.30"/><line x1="696.20" y1="111.00" x2="783.00" y2="197.80"/><line x1="696.20" y1="131.50" x2="783.00" y2="218.30"/><line x1="696.20" y1="152.00" x2="783.00" y2="238.80"/><line x1="696.20" y1="172.50" x2="783.00" y2="259.30"/><line x1="696.20" y1="193.00" x2="783.00" y2="279.80"/><line x1="696.20" y1="213.50" x2="783.00" y2="300.30"/><line x1="696.20" y1="234.00" x2="783.00" y2="320.80"/><line x1="696.20" y1="254.50" x2="783.00" y2="341.30"/><line x1="696.20" y1="275.00" x2="783.00" y2="361.80"/><line x1="696.20" y1="295.50" x2="783.00" y2="382.30"/><line x1="696.20" y1="193.00" x2="783.00" y2="106.20"/><line x1="696.20" y1="213.50" x2="783.00" y2="126.70"/><line x1="696.20" y1="234.00" x2="783.00" y2="147.20"/><line x1="696.20" y1="254.50" x2="783.00" y2="167.70"/><line x1="696.20" y1="275.00" x2="783.00" y2="188.20"/><line x1="696.20" y1="295.50" x2="783.00" y2="208.70"/><line x1="696.20" y1="316.00" x2="783.00" y2="229.20"/></g>
<rect x="696.20" y="172.50" width="9.1" height="77.70" fill="none" stroke="#111" stroke-width="1.15"/>
<path d="M700.75 169.00V176.00M698.25 169.00h5M698.25 176.00h5" stroke="#111" stroke-width="1.2" fill="none"/>
<text x="415.0" y="165.3" font-size="11.3" text-anchor="middle">d</text>
<text x="424.2" y="164.8" font-size="11.3" text-anchor="middle">d</text>
<text x="434.2" y="163.7" font-size="11.3" text-anchor="middle">d</text>
<text x="442.3" y="166.2" font-size="11.3" text-anchor="middle">a</text>
<text x="466.2" y="163.6" font-size="11.3" text-anchor="middle">d</text>
<text x="476.3" y="150.8" font-size="11.3" text-anchor="middle">c</text>
<text x="485.0" y="158.3" font-size="11.3" text-anchor="middle">c</text>
<text x="494.0" y="165.0" font-size="11.3" text-anchor="middle">a</text>
<text x="518.0" y="154.2" font-size="11.3" text-anchor="middle">c</text>
<text x="527.5" y="130.4" font-size="11.3" text-anchor="middle">b</text>
<text x="537.0" y="151.3" font-size="11.3" text-anchor="middle">b</text>
<text x="545.4" y="163.4" font-size="11.3" text-anchor="middle">a</text>
<text x="569.9" y="123.6" font-size="11.3" text-anchor="middle">a</text>
<text x="579.1" y="124.0" font-size="11.3" text-anchor="middle">a</text>
<text x="589.5" y="147.2" font-size="11.3" text-anchor="middle">ab</text>
<text x="597.6" y="165.4" font-size="11.3" text-anchor="middle">a</text>
<text x="620.6" y="134.9" font-size="11.3" text-anchor="middle">ab</text>
<text x="630.5" y="127.3" font-size="11.3" text-anchor="middle">ab</text>
<text x="640.2" y="142.4" font-size="11.3" text-anchor="middle">a</text>
<text x="649.0" y="166.1" font-size="11.3" text-anchor="middle">a</text>
<text x="673.4" y="142.4" font-size="11.3" text-anchor="middle">b</text>
<text x="682.6" y="128.7" font-size="11.3" text-anchor="middle">ab</text>
<text x="692.8" y="143.8" font-size="11.3" text-anchor="middle">ab</text>
<text x="700.5" y="165.8" font-size="11.3" text-anchor="middle">a</text>
<path d="M402.9 7.10V250.90" stroke="#111" stroke-width="1.3" fill="none"/>
<path d="M402.20 250.2H705.80" stroke="#111" stroke-width="1.3" fill="none"/>
<text x="396.1" y="253.7" font-size="13.1" text-anchor="end">0</text>
<path d="M402.9 201.70h5.6" stroke="#111" stroke-width="1.1" fill="none"/>
<text x="396.1" y="205.2" font-size="13.1" text-anchor="end">2</text>
<path d="M402.9 153.20h5.6" stroke="#111" stroke-width="1.1" fill="none"/>
<text x="396.1" y="156.7" font-size="13.1" text-anchor="end">4</text>
<path d="M402.9 104.70h5.6" stroke="#111" stroke-width="1.1" fill="none"/>
<text x="396.1" y="108.2" font-size="13.1" text-anchor="end">6</text>
<path d="M402.9 56.20h5.6" stroke="#111" stroke-width="1.1" fill="none"/>
<text x="396.1" y="59.7" font-size="13.1" text-anchor="end">8</text>
<path d="M402.9 7.70h5.6" stroke="#111" stroke-width="1.1" fill="none"/>
<text x="396.1" y="11.2" font-size="13.1" text-anchor="end">10</text>
<text x="429.1" y="267.0" font-size="13" text-anchor="middle">0d</text>
<text x="480.8" y="267.0" font-size="13" text-anchor="middle">1d</text>
<text x="532.4" y="267.0" font-size="13" text-anchor="middle">2d</text>
<text x="584.1" y="267.0" font-size="13" text-anchor="middle">3d</text>
<text x="635.7" y="267.0" font-size="13" text-anchor="middle">4d</text>
<text x="687.4" y="267.0" font-size="13" text-anchor="middle">5d</text>
<text transform="translate(377.7 160.3) rotate(-90)" font-size="12.8" textLength="64.0" lengthAdjust="spacing">K326(mg/g)</text>
<rect x="416.3" y="9.95" width="16.6" height="6.4" fill="#ffffff" stroke="#111" stroke-width="1.2"/>
<text x="437.6" y="16.6" font-size="11.5">4 °<tspan dx="-0.8">C</tspan></text>
<rect x="416.3" y="22.7" width="16.6" height="6.4" fill="#c0c0c0" stroke="#111" stroke-width="1.2"/>
<text x="437.6" y="29.4" font-size="11.5">10 °<tspan dx="-0.8">C</tspan></text>
<rect x="416.3" y="35.5" width="16.6" height="6.4" fill="#9a9a9a" stroke="#111" stroke-width="1.2"/>
<text x="437.6" y="42.2" font-size="11.5">16 °<tspan dx="-0.8">C</tspan></text>
<rect x="416.3" y="48.3" width="16.6" height="6.4" fill="#fff"/>
<path d="M416.3 48.3l6.4 6.4M432.90000000000003 51.199999999999996l-3.5 3.5" stroke="#111" stroke-width="1.1" fill="none"/>
<rect x="416.3" y="48.3" width="16.6" height="6.4" fill="none" stroke="#111" stroke-width="1.2"/>
<text x="437.6" y="55.0" font-size="11.5">25 °<tspan dx="-0.8">C</tspan></text>
</svg>
</body></html>
